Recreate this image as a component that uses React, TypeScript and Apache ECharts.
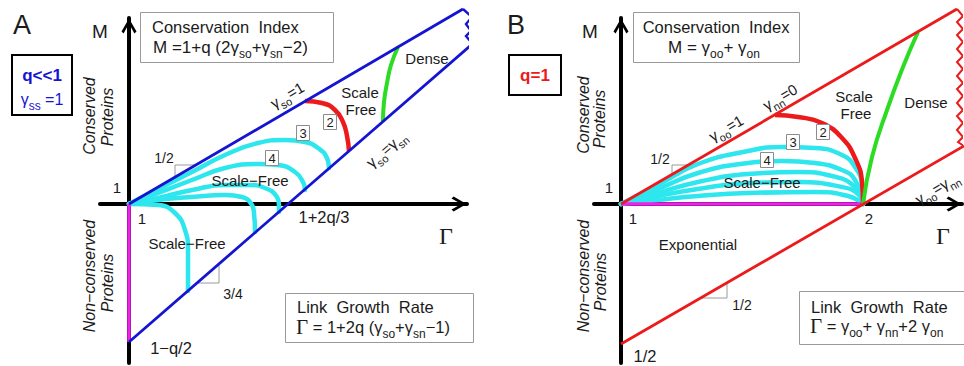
import React, { useEffect, useRef } from "react";
import * as echarts from "echarts";

// ---------- Data (diagram units measured from the origin Γ=1, M=1) ----------
// Panel A : q << 1
const aUpper = [[0, 0], [3.34, 1.95]];
const aLower = [[0, -1.38], [3.41, 1.58]];
const aEdge = [[3.34, 1.95], [3.43, 1.87], [3.37, 1.8], [3.42, 1.73], [3.37, 1.68], [3.42, 1.62], [3.41, 1.58]];
const aCyan = [
  [[0, 0], [0.29, 0.15], [0.63, 0.32], [0.96, 0.49], [1.29, 0.61], [1.56, 0.64], [1.76, 0.62], [1.89, 0.56], [1.98, 0.46], [2.0, 0.36]],
  [[0, 0], [0.29, 0.11], [0.63, 0.24], [0.96, 0.36], [1.29, 0.4], [1.49, 0.39], [1.66, 0.32], [1.74, 0.22], [1.76, 0.14]],
  [[0, 0], [0.29, 0.06], [0.63, 0.14], [0.96, 0.19], [1.19, 0.19], [1.36, 0.16], [1.48, 0.07], [1.5, -0.01], [1.5, -0.08]],
  [[0, 0], [0.29, 0.04], [0.63, 0.07], [0.96, 0.09], [1.13, 0.07], [1.23, -0.01], [1.25, -0.09], [1.26, -0.28]],
  [[0, 0], [0.29, -0.01], [0.46, -0.09], [0.56, -0.26], [0.59, -0.46], [0.59, -0.87]],
];
const aRed = [[1.76, 1.03], [1.93, 1.01], [2.06, 0.94], [2.14, 0.82], [2.18, 0.68], [2.2, 0.53]];
const aGreen = [[2.69, 1.57], [2.62, 1.39], [2.58, 1.21], [2.55, 1.02], [2.54, 0.83]];
const aMagenta = [[0, 0], [0, -1.38]];
const aSlopeUp = [[0.46, 0.27], [0.46, 0.39], [0.66, 0.39]];
const aSlopeDown = [[0.69, -0.79], [0.9, -0.79], [0.9, -0.6]];

// Panel B : q = 1
const bUpper = [[0, 0], [3.36, 1.95]];
const bLower = [[0, -1.4], [3.43, 0.58]];
const bEdge = [
  [3.36, 1.95], [3.42, 1.88], [3.36, 1.82], [3.42, 1.75], [3.36, 1.69], [3.42, 1.62], [3.36, 1.55],
  [3.42, 1.48], [3.36, 1.42], [3.42, 1.35], [3.36, 1.28], [3.42, 1.21], [3.36, 1.15], [3.42, 1.08],
  [3.36, 1.01], [3.42, 0.94], [3.36, 0.88], [3.42, 0.81], [3.36, 0.74], [3.42, 0.67], [3.37, 0.62], [3.43, 0.58],
];
const bCyan = [
  [[0, 0], [0.37, 0.19], [0.77, 0.4], [1.27, 0.53], [1.61, 0.57], [1.94, 0.56], [2.21, 0.49], [2.34, 0.37], [2.41, 0.19], [2.42, 0]],
  [[0, 0], [0.37, 0.15], [0.77, 0.31], [1.27, 0.41], [1.61, 0.43], [1.94, 0.41], [2.21, 0.34], [2.34, 0.24], [2.42, 0]],
  [[0, 0], [0.37, 0.11], [0.77, 0.22], [1.27, 0.3], [1.77, 0.32], [2.11, 0.28], [2.34, 0.17], [2.42, 0]],
  [[0, 0], [0.37, 0.08], [0.77, 0.15], [1.27, 0.21], [1.77, 0.22], [2.21, 0.17], [2.37, 0.1], [2.42, 0]],
  [[0, 0], [0.37, 0.04], [0.77, 0.08], [1.27, 0.11], [1.94, 0.12], [2.27, 0.08], [2.42, 0]],
];
const bRed = [[1.54, 0.89], [1.77, 0.87], [2.01, 0.81], [2.21, 0.66], [2.34, 0.46], [2.41, 0.22], [2.42, 0]];
const bGreen = [[2.42, 0], [2.51, 0.47], [2.66, 0.94], [2.82, 1.37], [2.97, 1.72]];
const bMagenta = [[0, 0], [2.42, 0]];
const bSlopeUp = [[0.51, 0.29], [0.51, 0.39], [0.67, 0.39]];
const bSlopeDown = [[0.8, -0.94], [1.06, -0.94], [1.06, -0.79]];

// ---------- Styling ----------
const SANS = "'Liberation Sans', Arial, Helvetica, sans-serif";
const SERIF = "'Liberation Serif', 'DejaVu Serif', serif";
const INK = "#1b1b1b";
const BLUE = "#1414d2";
const RED = "#ec1a1a";
const CYAN = "#2ee6ee";
const GREEN = "#2bdc22";
const MAGENTA = "#ee22e8";
const GRAY = "#9a9a9a";

const ARROW = "path://M50,0 L100,86 L86,100 L50,34 L14,100 L0,86 Z";

function rich(size: number, color: string) {
  return {
    s: { fontSize: Math.round(size * 0.72), fontFamily: SANS, fill: color, padding: [Math.round(size * 0.85), 0, 0, 0] },
    G: { fontSize: Math.round(size * 1.3), fontFamily: SERIF, fill: color },
  };
}

function label(x: number, y: number, text: string, o: any = {}) {
  const size = o.size ?? 15;
  const color = o.color ?? INK;
  const align = o.align ?? "center";
  return {
    type: "text",
    x,
    y,
    rotation: o.rot ?? 0,
    z: 100,
    silent: true,
    style: {
      text,
      fill: color,
      fontSize: size,
      fontFamily: o.family ?? SANS,
      fontStyle: o.italic ? "italic" : "normal",
      fontWeight: o.bold ? "bold" : "normal",
      align,
      textAlign: align,
      verticalAlign: "middle",
      textVerticalAlign: "middle",
      rich: rich(size, color),
    },
  };
}

function box(x: number, y: number, w: number, h: number, stroke: string, lw: number, fill = "rgba(0,0,0,0)") {
  return {
    type: "rect",
    z: 90,
    silent: true,
    shape: { x, y, width: w, height: h },
    style: { fill, stroke, lineWidth: lw },
  };
}

function numBox(cx: number, cy: number, t: string) {
  return [box(cx - 6.5, cy - 7.5, 13, 15, "#8c8c8c", 1, "#ffffff"), label(cx, cy, t, { size: 13 })];
}

function line(data: number[][], gi: number, color: string, width: number, z: number, smooth: boolean | number = false, cap = "butt") {
  return {
    type: "line",
    xAxisIndex: gi,
    yAxisIndex: gi,
    data,
    symbol: "none",
    smooth,
    clip: false,
    silent: true,
    z,
    animation: false,
    lineStyle: { color, width, cap, join: "miter" },
  };
}

function axisStyle(gi: number, min: number, max: number) {
  return {
    type: "value",
    gridIndex: gi,
    min,
    max,
    axisLine: {
      show: true,
      onZero: true,
      symbol: ["none", ARROW],
      symbolSize: [15, 19],
      symbolOffset: [0, -8],
      lineStyle: { color: "#000", width: 4 },
    },
    axisTick: { show: false },
    axisLabel: { show: false },
    splitLine: { show: false },
  };
}

const R30 = Math.atan(0.584);
const R41 = Math.atan(0.868);
const V = Math.PI / 2;

export default function App() {
  const ref = useRef<HTMLDivElement>(null);
  useEffect(() => {
    if (!ref.current) return;
    const chart = echarts.init(ref.current, null, { renderer: "svg" });
    const series: any[] = [];
    // panel A
    aCyan.forEach((c) => series.push(line(c, 0, CYAN, 4.5, 3, 0.5, "round")));
    series.push(line(aRed, 0, RED, 4.5, 5, 0.5));
    series.push(line(aGreen, 0, GREEN, 4, 5, 0.5));
    series.push(line(aMagenta, 0, MAGENTA, 3.5, 6));
    series.push(line(aUpper, 0, BLUE, 2.8, 6));
    series.push(line(aLower, 0, BLUE, 2.8, 6));
    series.push(line(aEdge, 0, BLUE, 2.4, 6));
    series.push(line(aSlopeUp, 0, GRAY, 1, 2));
    series.push(line(aSlopeDown, 0, GRAY, 1, 2));
    // panel B
    bCyan.forEach((c) => series.push(line(c, 1, CYAN, 4.5, 3, 0.5, "round")));
    series.push(line(bMagenta, 1, MAGENTA, 3.5, 4));
    series.push(line(bRed, 1, RED, 4.5, 5, 0.5));
    series.push(line(bGreen, 1, GREEN, 4, 5, 0.5));
    series.push(line(bUpper, 1, RED, 2.8, 6));
    series.push(line(bLower, 1, RED, 2.8, 6));
    series.push(line(bEdge, 1, RED, 2, 6));
    series.push(line(bSlopeUp, 1, GRAY, 1, 2));
    series.push(line(bSlopeDown, 1, GRAY, 1, 2));

    const graphics: any[] = [
      // ----- Panel A -----
      label(22, 25, "A", { size: 27 }),
      label(100, 31, "M", { size: 19 }),
      box(12, 55, 60, 60, "#000", 2),
      label(42, 75, "q<<1", { size: 17, bold: true, color: BLUE }),
      label(42, 99, "γ{s|ss} =1", { size: 16, color: BLUE }),
      box(140.5, 12.5, 193, 50, GRAY, 1),
      label(152, 27, "Conservation  Index", { size: 16.5, align: "left" }),
      label(153, 47, "M =1+q (2γ{s|so}+γ{s|sn}−2)", { size: 17, align: "left" }),
      label(89, 116, "Conserved", { size: 16, italic: true, rot: V }),
      label(107, 117, "Proteins", { size: 16, italic: true, rot: V }),
      label(89, 276, "Non−conserved", { size: 16, italic: true, rot: V }),
      label(107, 283, "Proteins", { size: 16, italic: true, rot: V }),
      label(117, 187, "1", { size: 15 }),
      label(142, 218, "1", { size: 15 }),
      label(164, 158, "1/2", { size: 14 }),
      label(250, 180, "Scale−Free", { size: 15 }),
      label(187, 243, "Scale−Free", { size: 15 }),
      label(233, 294, "3/4", { size: 14 }),
      label(324, 217, "1+2q/3", { size: 16.5 }),
      label(446, 236, "Γ", { size: 24, family: SERIF }),
      label(171, 348, "1−q/2", { size: 16.5 }),
      box(285.5, 293.5, 188, 49, GRAY, 1),
      label(297, 307, "Link  Growth  Rate", { size: 16.5, align: "left" }),
      label(296, 327, "{G|Γ} = 1+2q (γ{s|so}+γ{s|sn}−1)", { size: 16.5, align: "left" }),
      label(287, 95, "γ{s|so}=1", { size: 15, rot: R30 }),
      label(386, 149, "γ{s|so}=γ{s|sn}", { size: 15, rot: R41 }),
      label(360, 92, "Scale", { size: 15 }),
      label(361, 109, "Free", { size: 15 }),
      label(427, 58, "Dense", { size: 15 }),
      ...numBox(330, 122, "2"),
      ...numBox(303, 133, "3"),
      ...numBox(272, 158, "4"),
      // ----- Panel B -----
      label(516, 25, "B", { size: 27 }),
      label(590, 31, "M", { size: 19 }),
      box(509, 55, 52, 40, "#000", 2),
      label(535, 75, "q=1", { size: 17, bold: true, color: RED }),
      box(633.5, 12.5, 166, 50, GRAY, 1),
      label(716, 27, "Conservation  Index", { size: 16.5 }),
      label(714, 47, "M = γ{s|oo}+ γ{s|on}", { size: 17 }),
      label(583, 115, "Conserved", { size: 16, italic: true, rot: V }),
      label(599, 119, "Proteins", { size: 16, italic: true, rot: V }),
      label(583, 276, "Non−conserved", { size: 16, italic: true, rot: V }),
      label(600, 282, "Proteins", { size: 16, italic: true, rot: V }),
      label(609, 187, "1", { size: 15 }),
      label(633, 218, "1", { size: 15 }),
      label(869, 218, "2", { size: 15 }),
      label(943, 236, "Γ", { size: 24, family: SERIF }),
      label(660, 159, "1/2", { size: 14 }),
      label(762, 182, "Scale−Free", { size: 15 }),
      label(698, 244, "Exponential", { size: 15 }),
      label(742, 305, "1/2", { size: 14 }),
      label(645, 356, "1/2", { size: 16.5 }),
      label(726, 128, "γ{s|oo}=1", { size: 15, rot: R30 }),
      label(780, 97, "γ{s|nn}=0", { size: 15, rot: R30 }),
      label(937, 188, "γ{s|oo}=γ{s|nn}", { size: 15, rot: R30 }),
      label(854, 96, "Scale", { size: 15 }),
      label(856, 113, "Free", { size: 15 }),
      label(926, 102, "Dense", { size: 15 }),
      box(799.5, 291.5, 180, 53, GRAY, 1),
      label(811, 307, "Link  Growth  Rate", { size: 16.5, align: "left" }),
      label(810, 326, "{G|Γ} = γ{s|oo}+ γ{s|nn}+2 γ{s|on}", { size: 16.5, align: "left" }),
      ...numBox(823, 132, "2"),
      ...numBox(793, 142, "3"),
      ...numBox(767, 160, "4"),
    ];

    chart.setOption({
      animation: false,
      backgroundColor: "#ffffff",
      textStyle: { fontFamily: SANS },
      grid: [
        { left: 100, top: 18, width: 367, height: 345, containLabel: false },
        { left: 594, top: 18, width: 368, height: 345, containLabel: false },
      ],
      xAxis: [axisStyle(0, -0.29, 3.38), axisStyle(1, -0.27, 3.41)],
      yAxis: [axisStyle(0, -1.59, 1.86), axisStyle(1, -1.59, 1.86)],
      series,
      graphic: { elements: graphics },
    });
    return () => chart.dispose();
  }, []);
  return (
    <div
      ref={ref}
      style={{ position: "fixed", left: 0, top: 0, width: 964, height: 366, background: "#fff" }}
    />
  );
}
